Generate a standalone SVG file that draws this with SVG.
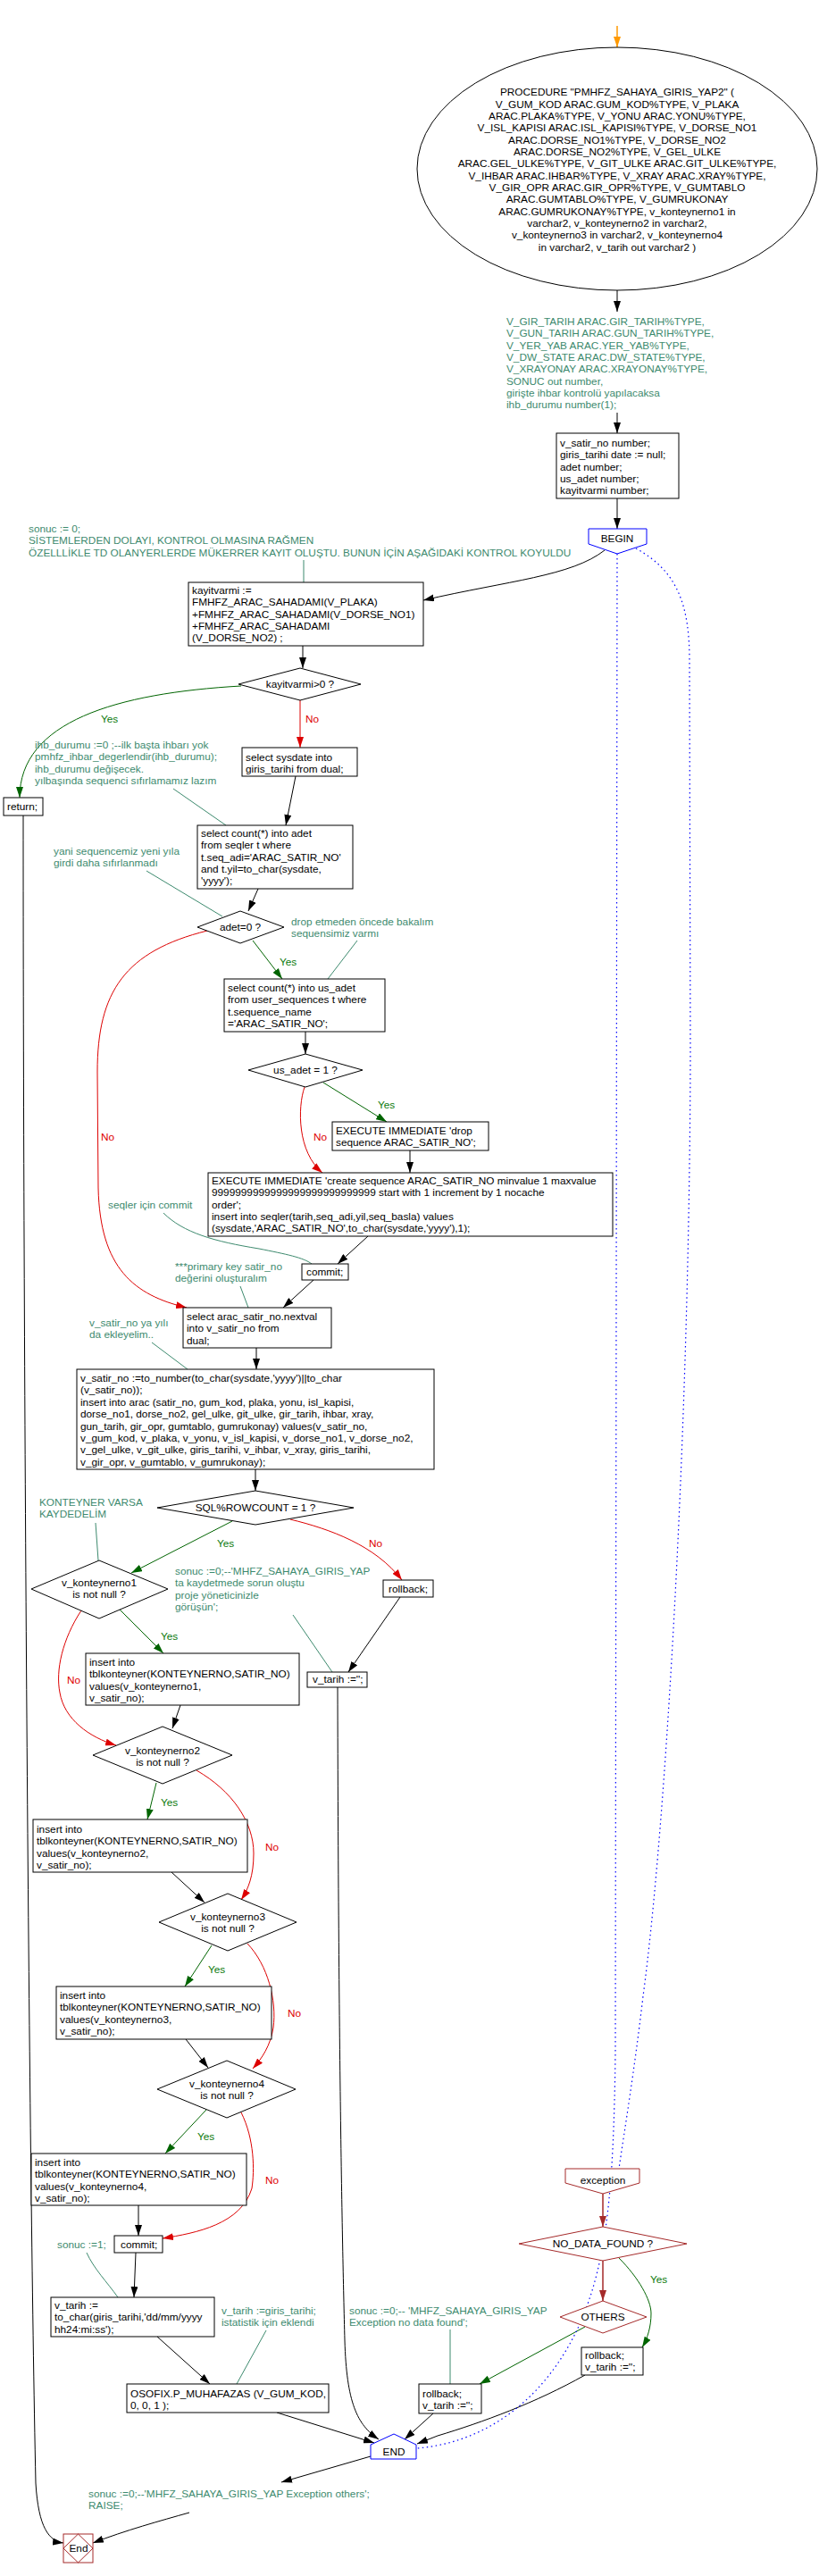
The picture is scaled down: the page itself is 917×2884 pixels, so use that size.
<svg xmlns="http://www.w3.org/2000/svg" width="917" height="2884" viewBox="0 0 917 2884">
<style>
text{font-family:"Liberation Sans",Arial,sans-serif;font-size:11.8px;fill:#000}
.c{fill:#3d8a6e}
.m{text-anchor:middle}
.yes{fill:#0b7a0b}
.no{fill:#dd0000}
.box{fill:#fff;stroke:#000;stroke-width:1}
.blue{fill:#fff;stroke:#0000ff;stroke-width:1}
.brn{fill:#fff;stroke:#a52a2a;stroke-width:1}
.e{fill:none;stroke:#000;stroke-width:1}
.g{fill:none;stroke:#006400;stroke-width:1}
.r{fill:none;stroke:#dd0000;stroke-width:1}
.br{fill:none;stroke:#a52a2a;stroke-width:1.5}
.o{fill:none;stroke:#ff9900;stroke-width:1.5}
.cl{fill:none;stroke:#3d8a6e;stroke-width:1}
.d{fill:none;stroke:#0000ff;stroke-width:1.2;stroke-dasharray:1.5 3.5}
</style>
<defs>
<marker id="ab" markerWidth="12" markerHeight="8" refX="12" refY="4" orient="auto" markerUnits="userSpaceOnUse"><path d="M0,0 L12,4 L0,8 z" fill="#000"/></marker>
<marker id="ag" markerWidth="12" markerHeight="8" refX="12" refY="4" orient="auto" markerUnits="userSpaceOnUse"><path d="M0,0 L12,4 L0,8 z" fill="#006400"/></marker>
<marker id="ar" markerWidth="12" markerHeight="8" refX="12" refY="4" orient="auto" markerUnits="userSpaceOnUse"><path d="M0,0 L12,4 L0,8 z" fill="#dd0000"/></marker>
<marker id="abr" markerWidth="12" markerHeight="8" refX="12" refY="4" orient="auto" markerUnits="userSpaceOnUse"><path d="M0,0 L12,4 L0,8 z" fill="#a52a2a"/></marker>
<marker id="ao" markerWidth="12" markerHeight="8" refX="12" refY="4" orient="auto" markerUnits="userSpaceOnUse"><path d="M0,0 L12,4 L0,8 z" fill="#ff9900"/></marker>
</defs>
<rect width="917" height="2884" fill="#fff"/>

<g id="connectors">
<path class="o" d="M691,29 L691,53" marker-end="url(#ao)"/>
<path class="e" d="M691,325 L691,349" marker-end="url(#ab)"/>
<path class="e" d="M691,462 L691,485" marker-end="url(#ab)"/>
<path class="e" d="M691,558 L691,592" marker-end="url(#ab)"/>
<path class="e" d="M677,616 C640,645 570,650 474,672" marker-end="url(#ab)"/>
<path class="cl" d="M340,627 L340,652"/>
<path class="e" d="M339,723 L339,748" marker-end="url(#ab)"/>
<path class="g" d="M270,768 C130,776 22,808 22,893" marker-end="url(#ag)"/>
<path class="r" d="M336,784 L336,837" marker-end="url(#ar)"/>
<path class="cl" d="M194,883 L253,924"/>
<path class="e" d="M331,869 L320,924" marker-end="url(#ab)"/>
<path class="e" d="M26,913 C26,1500 32,2400 40,2780 C43,2830 55,2845 71,2847" marker-end="url(#ab)"/>
<path class="cl" d="M164,975 L249,1026"/>
<path class="e" d="M289,995 L278,1020" marker-end="url(#ab)"/>
<path class="g" d="M283,1053 L316,1096" marker-end="url(#ag)"/>
<path class="cl" d="M400,1053 L367,1096"/>
<path class="r" d="M232,1042 C140,1065 109,1110 109,1200 L110,1330 C112,1420 150,1450 209,1464" marker-end="url(#ar)"/>
<path class="e" d="M342,1155 L342,1180" marker-end="url(#ab)"/>
<path class="g" d="M362,1212 L433,1256" marker-end="url(#ag)"/>
<path class="r" d="M341,1217 C333,1240 333,1290 361,1313" marker-end="url(#ar)"/>
<path class="e" d="M459,1288 L459,1313" marker-end="url(#ab)"/>
<path class="cl" d="M183,1358 C205,1380 240,1390 290,1398 C320,1404 340,1408 349,1415"/>
<path class="e" d="M412,1384 L378,1415" marker-end="url(#ab)"/>
<path class="cl" d="M269,1440 L278,1464"/>
<path class="e" d="M351,1433 L317,1464" marker-end="url(#ab)"/>
<path class="cl" d="M170,1503 L210,1533"/>
<path class="e" d="M287,1509 L287,1533" marker-end="url(#ab)"/>
<path class="e" d="M286,1645 L286,1669" marker-end="url(#ab)"/>
<path class="cl" d="M107,1705 L110,1747"/>
<path class="g" d="M260,1703 L147,1761" marker-end="url(#ag)"/>
<path class="r" d="M325,1701 C370,1712 420,1730 450,1769" marker-end="url(#ar)"/>
<path class="cl" d="M328,1808 L372,1872"/>
<path class="e" d="M448,1788 L390,1872" marker-end="url(#ab)"/>
<path class="e" d="M378,1889 C379,2300 383,2500 386,2620 C388,2690 400,2715 424,2731" marker-end="url(#ab)"/>
<path class="g" d="M133,1801 L183,1851" marker-end="url(#ag)"/>
<path class="r" d="M91,1803 C70,1835 62,1870 67,1895 C72,1925 100,1945 130,1954" marker-end="url(#ar)"/>
<path class="e" d="M202,1909 L193,1935" marker-end="url(#ab)"/>
<path class="g" d="M175,1996 L165,2037" marker-end="url(#ag)"/>
<path class="r" d="M220,1982 C260,2005 284,2040 284,2075 C284,2100 278,2115 270,2127" marker-end="url(#ar)"/>
<path class="e" d="M192,2096 L229,2130" marker-end="url(#ab)"/>
<path class="g" d="M237,2178 L207,2224" marker-end="url(#ag)"/>
<path class="r" d="M277,2176 C300,2200 310,2240 306,2270 C303,2290 293,2305 283,2316" marker-end="url(#ar)"/>
<path class="e" d="M208,2283 L233,2315" marker-end="url(#ab)"/>
<path class="g" d="M231,2362 L185,2411" marker-end="url(#ag)"/>
<path class="r" d="M270,2365 C285,2395 285,2430 282,2450 C270,2490 220,2500 182,2506" marker-end="url(#ar)"/>
<path class="e" d="M155,2469 L155,2503" marker-end="url(#ab)"/>
<path class="cl" d="M97,2522 C105,2540 120,2555 132,2572"/>
<path class="e" d="M152,2522 L150,2572" marker-end="url(#ab)"/>
<path class="e" d="M176,2616 L235,2669" marker-end="url(#ab)"/>
<path class="cl" d="M298,2609 L265,2669"/>
<path class="e" d="M310,2701 L419,2735" marker-end="url(#ab)"/>
<path class="cl" d="M504,2608 L504,2669"/>
<path class="br" d="M675,2456 L675,2493" marker-end="url(#abr)"/>
<path class="br" d="M675,2531 L675,2576" marker-end="url(#abr)"/>
<path class="g" d="M693,2528 C715,2550 729,2575 729,2590 C729,2605 725,2618 719,2628" marker-end="url(#ag)"/>
<path class="g" d="M655,2605 L537,2669" marker-end="url(#ag)"/>
<path class="e" d="M485,2702 L453,2731" marker-end="url(#ab)"/>
<path class="e" d="M655,2659 C600,2690 540,2712 490,2727 L467,2736" marker-end="url(#ab)"/>
<path class="e" d="M415,2750 L315,2779" marker-end="url(#ab)"/>
<path class="e" d="M212,2813 C180,2822 140,2833 104,2847" marker-end="url(#ab)"/>
<path class="d" d="M691,620 L689,2300 C687,2450 680,2530 650,2600 C610,2690 540,2735 467,2741"/>
<path class="d" d="M712,614 C760,640 772,680 772,740 L773,1180 C772,1600 745,2050 720,2235 C710,2320 700,2380 693,2428"/>
<text class="yes" x="113" y="809">Yes</text>
<text class="no" x="342" y="809">No</text>
<text class="yes" x="313" y="1081">Yes</text>
<text class="no" x="113" y="1277">No</text>
<text class="yes" x="423" y="1241">Yes</text>
<text class="no" x="351" y="1277">No</text>
<text class="yes" x="243" y="1732">Yes</text>
<text class="no" x="413" y="1732">No</text>
<text class="yes" x="180" y="1836">Yes</text>
<text class="no" x="75" y="1885">No</text>
<text class="yes" x="180" y="2022">Yes</text>
<text class="no" x="297" y="2072">No</text>
<text class="yes" x="233" y="2209">Yes</text>
<text class="no" x="322" y="2258">No</text>
<text class="yes" x="221" y="2396">Yes</text>
<text class="no" x="297" y="2445">No</text>
<text class="yes" x="728" y="2556">Yes</text>
</g>

<g id="n_proc">
<ellipse class="box" cx="691" cy="189" rx="224" ry="136"/>
<text class="m" x="691" y="107.3"><tspan x="691">PROCEDURE "PMHFZ_SAHAYA_GIRIS_YAP2" (</tspan><tspan x="691" dy="13.33">V_GUM_KOD  ARAC.GUM_KOD%TYPE, V_PLAKA</tspan><tspan x="691" dy="13.33">ARAC.PLAKA%TYPE, V_YONU ARAC.YONU%TYPE,</tspan><tspan x="691" dy="13.33">V_ISL_KAPISI ARAC.ISL_KAPISI%TYPE, V_DORSE_NO1</tspan><tspan x="691" dy="13.33">ARAC.DORSE_NO1%TYPE, V_DORSE_NO2</tspan><tspan x="691" dy="13.33">ARAC.DORSE_NO2%TYPE, V_GEL_ULKE</tspan><tspan x="691" dy="13.33">ARAC.GEL_ULKE%TYPE, V_GIT_ULKE ARAC.GIT_ULKE%TYPE,</tspan><tspan x="691" dy="13.33">V_IHBAR  ARAC.IHBAR%TYPE, V_XRAY ARAC.XRAY%TYPE,</tspan><tspan x="691" dy="13.33">V_GIR_OPR  ARAC.GIR_OPR%TYPE, V_GUMTABLO</tspan><tspan x="691" dy="13.33">ARAC.GUMTABLO%TYPE, V_GUMRUKONAY</tspan><tspan x="691" dy="13.33">ARAC.GUMRUKONAY%TYPE, v_konteynerno1  in</tspan><tspan x="691" dy="13.33">varchar2, v_konteynerno2  in  varchar2,</tspan><tspan x="691" dy="13.33">v_konteynerno3  in  varchar2, v_konteynerno4</tspan><tspan x="691" dy="13.33">in  varchar2, v_tarih out varchar2 )</tspan></text>
</g>

<g id="n_params">
<text class="c" x="567" y="364"><tspan x="567">V_GIR_TARIH  ARAC.GIR_TARIH%TYPE,</tspan><tspan x="567" dy="13.3">V_GUN_TARIH  ARAC.GUN_TARIH%TYPE,</tspan><tspan x="567" dy="13.3">V_YER_YAB  ARAC.YER_YAB%TYPE,</tspan><tspan x="567" dy="13.3">V_DW_STATE ARAC.DW_STATE%TYPE,</tspan><tspan x="567" dy="13.3">V_XRAYONAY ARAC.XRAYONAY%TYPE,</tspan><tspan x="567" dy="13.3">SONUC out  number,</tspan><tspan x="567" dy="13.3">girişte ihbar kontrolü yapılacaksa</tspan><tspan x="567" dy="13.3">ihb_durumu number(1);</tspan></text>
</g>

<g id="n_decl">
<rect class="box" x="623" y="485" width="137" height="73"/>
<text x="627" y="500"><tspan x="627">v_satir_no number;</tspan><tspan x="627" dy="13.3">giris_tarihi date := null;</tspan><tspan x="627" dy="13.3">adet number;</tspan><tspan x="627" dy="13.3">us_adet number;</tspan><tspan x="627" dy="13.3">kayitvarmi number;</tspan></text>
</g>

<g id="n_begin">
<polygon class="blue" points="659,592 724,592 724,609 691,620 659,609"/>
<text class="m" x="691" y="607">BEGIN</text>
</g>

<g id="c_sonuc0">
<text class="c" x="32" y="596"><tspan x="32">sonuc := 0;</tspan><tspan x="32" dy="13.3">SİSTEMLERDEN DOLAYI, KONTROL OLMASINA RAĞMEN</tspan><tspan x="32" dy="13.3">ÖZELLLİKLE TD OLANYERLERDE MÜKERRER KAYIT OLUŞTU. BUNUN İÇİN AŞAĞIDAKİ KONTROL KOYULDU</tspan></text>
</g>

<g id="n_kayitvarmi">
<rect class="box" x="211" y="652" width="263" height="71"/>
<text x="215" y="665"><tspan x="215">kayitvarmi :=</tspan><tspan x="215" dy="13.3">FMHFZ_ARAC_SAHADAMI(V_PLAKA)</tspan><tspan x="215" dy="13.3">+FMHFZ_ARAC_SAHADAMI(V_DORSE_NO1)</tspan><tspan x="215" dy="13.3">+FMHFZ_ARAC_SAHADAMI</tspan><tspan x="215" dy="13.3">(V_DORSE_NO2) ;</tspan></text>
</g>

<g id="n_q_kayit">
<polygon class="box" points="336,748 404,766 336,784 267,766"/>
<text class="m" x="336" y="770">kayitvarmi&gt;0 ?</text>
</g>

<g id="n_sysdate">
<rect class="box" x="271" y="837" width="129" height="32"/>
<text x="275" y="852"><tspan x="275">select sysdate into</tspan><tspan x="275" dy="13.3">giris_tarihi from dual;</tspan></text>
</g>

<g id="c_ihb">
<text class="c" x="39" y="838"><tspan x="39">ihb_durumu :=0 ;--ilk başta ihbarı yok</tspan><tspan x="39" dy="13.3">pmhfz_ihbar_degerlendir(ihb_durumu);</tspan><tspan x="39" dy="13.3">ihb_durumu değişecek.</tspan><tspan x="39" dy="13.3">yılbaşında sequenci sıfırlamamız lazım</tspan></text>
</g>

<g id="n_return">
<rect class="box" x="4" y="893" width="44" height="20"/>
<text x="8" y="907">return;</text>
</g>

<g id="n_count">
<rect class="box" x="221" y="924" width="174" height="71"/>
<text x="225" y="937"><tspan x="225">select count(*) into adet</tspan><tspan x="225" dy="13.3">from seqler t where</tspan><tspan x="225" dy="13.3">t.seq_adi='ARAC_SATIR_NO'</tspan><tspan x="225" dy="13.3">and t.yil=to_char(sysdate,</tspan><tspan x="225" dy="13.3">'yyyy');</tspan></text>
</g>

<g id="c_yani">
<text class="c" x="60" y="957"><tspan x="60">yani sequencemiz yeni yıla</tspan><tspan x="60" dy="13.3">girdi daha sıfırlanmadı</tspan></text>
</g>

<g id="n_q_adet">
<polygon class="box" points="269,1020 318,1038 269,1056 221,1038"/>
<text class="m" x="269" y="1042">adet=0 ?</text>
</g>

<g id="c_drop">
<text class="c" x="326" y="1036"><tspan x="326">drop etmeden öncede bakalım</tspan><tspan x="326" dy="13.3">sequensimiz varmı</tspan></text>
</g>

<g id="n_usadet">
<rect class="box" x="251" y="1096" width="180" height="59"/>
<text x="255" y="1110"><tspan x="255">select count(*) into us_adet</tspan><tspan x="255" dy="13.3">from user_sequences t where</tspan><tspan x="255" dy="13.3">t.sequence_name</tspan><tspan x="255" dy="13.3">='ARAC_SATIR_NO';</tspan></text>
</g>

<g id="n_q_usadet">
<polygon class="box" points="342,1180 406,1198 342,1217 278,1198"/>
<text class="m" x="342" y="1202">us_adet = 1 ?</text>
</g>

<g id="n_dropseq">
<rect class="box" x="372" y="1256" width="175" height="32"/>
<text x="376" y="1270"><tspan x="376">EXECUTE IMMEDIATE  'drop</tspan><tspan x="376" dy="13.3">sequence ARAC_SATIR_NO';</tspan></text>
</g>

<g id="n_create">
<rect class="box" x="233" y="1313" width="453" height="71"/>
<text x="237" y="1326"><tspan x="237">EXECUTE IMMEDIATE 'create sequence ARAC_SATIR_NO minvalue 1 maxvalue</tspan><tspan x="237" dy="13.3">9999999999999999999999999999 start with 1 increment by 1 nocache</tspan><tspan x="237" dy="13.3">order';</tspan><tspan x="237" dy="13.3">insert into seqler(tarih,seq_adi,yil,seq_basla) values</tspan><tspan x="237" dy="13.3">(sysdate,'ARAC_SATIR_NO',to_char(sysdate,'yyyy'),1);</tspan></text>
</g>

<g id="c_seqler">
<text class="c" x="121" y="1353">seqler için commit</text>
</g>

<g id="n_commit1">
<rect class="box" x="338" y="1415" width="52" height="18"/>
<text x="343" y="1428">commit;</text>
</g>

<g id="c_pk">
<text class="c" x="196" y="1422"><tspan x="196">***primary key satir_no</tspan><tspan x="196" dy="13.3">değerini oluşturalım</tspan></text>
</g>

<g id="n_nextval">
<rect class="box" x="205" y="1464" width="166" height="45"/>
<text x="209" y="1478"><tspan x="209">select arac_satir_no.nextval</tspan><tspan x="209" dy="13.3">into v_satir_no from</tspan><tspan x="209" dy="13.3">dual;</tspan></text>
</g>

<g id="c_yil">
<text class="c" x="100" y="1485"><tspan x="100">v_satir_no ya yılı</tspan><tspan x="100" dy="13.3">da ekleyelim..</tspan></text>
</g>

<g id="n_insert_arac">
<rect class="box" x="86" y="1533" width="400" height="112"/>
<text x="90" y="1547"><tspan x="90">v_satir_no :=to_number(to_char(sysdate,'yyyy')||to_char</tspan><tspan x="90" dy="13.4">(v_satir_no));</tspan><tspan x="90" dy="13.4">insert into arac (satir_no, gum_kod, plaka, yonu, isl_kapisi,</tspan><tspan x="90" dy="13.4">dorse_no1, dorse_no2, gel_ulke, git_ulke, gir_tarih, ihbar, xray,</tspan><tspan x="90" dy="13.4">gun_tarih, gir_opr, gumtablo, gumrukonay) values(v_satir_no,</tspan><tspan x="90" dy="13.4">v_gum_kod, v_plaka, v_yonu, v_isl_kapisi, v_dorse_no1, v_dorse_no2,</tspan><tspan x="90" dy="13.4">v_gel_ulke, v_git_ulke, giris_tarihi, v_ihbar, v_xray, giris_tarihi,</tspan><tspan x="90" dy="13.4">v_gir_opr, v_gumtablo, v_gumrukonay);</tspan></text>
</g>

<g id="n_q_rowcount">
<polygon class="box" points="286,1669 396,1688 286,1707 176,1688"/>
<text class="m" x="286" y="1692">SQL%ROWCOUNT = 1 ?</text>
</g>

<g id="c_konteyner">
<text class="c" x="44" y="1686"><tspan x="44">KONTEYNER VARSA</tspan><tspan x="44" dy="13.3">KAYDEDELİM</tspan></text>
</g>

<g id="n_q_k1">
<polygon class="box" points="111,1747 188,1779 111,1812 35,1779"/>
<text class="m" x="111" y="1776"><tspan x="111">v_konteynerno1</tspan><tspan x="111" dy="13.3">is not null ?</tspan></text>
</g>

<g id="n_rollback1">
<rect class="box" x="429" y="1769" width="56" height="19"/>
<text x="435" y="1783">rollback;</text>
</g>

<g id="c_sorun">
<text class="c" x="196" y="1763"><tspan x="196">sonuc :=0;--'MHFZ_SAHAYA_GIRIS_YAP</tspan><tspan x="196" dy="13.3">ta kaydetmede sorun oluştu</tspan><tspan x="196" dy="13.3">proje yöneticinizle</tspan><tspan x="196" dy="13.3">görüşün';</tspan></text>
</g>

<g id="n_vtarih1">
<rect class="box" x="344" y="1872" width="67" height="17"/>
<text x="350" y="1884">v_tarih :='';</text>
</g>

<g id="n_ins1">
<rect class="box" x="96" y="1851" width="239" height="58"/>
<text x="100" y="1865"><tspan x="100">insert into</tspan><tspan x="100" dy="13.3">tblkonteyner(KONTEYNERNO,SATIR_NO)</tspan><tspan x="100" dy="13.3">values(v_konteynerno1,</tspan><tspan x="100" dy="13.3">v_satir_no);</tspan></text>
</g>

<g id="n_q_k2">
<polygon class="box" points="182,1933 260,1965 182,1997 104,1965"/>
<text class="m" x="182" y="1964"><tspan x="182">v_konteynerno2</tspan><tspan x="182" dy="13.3">is not null ?</tspan></text>
</g>

<g id="n_ins2">
<rect class="box" x="37" y="2037" width="240" height="59"/>
<text x="41" y="2052"><tspan x="41">insert into</tspan><tspan x="41" dy="13.3">tblkonteyner(KONTEYNERNO,SATIR_NO)</tspan><tspan x="41" dy="13.3">values(v_konteynerno2,</tspan><tspan x="41" dy="13.3">v_satir_no);</tspan></text>
</g>

<g id="n_q_k3">
<polygon class="box" points="255,2120 332,2152 255,2184 178,2152"/>
<text class="m" x="255" y="2150"><tspan x="255">v_konteynerno3</tspan><tspan x="255" dy="13.3">is not null ?</tspan></text>
</g>

<g id="n_ins3">
<rect class="box" x="63" y="2224" width="241" height="59"/>
<text x="67" y="2238"><tspan x="67">insert into</tspan><tspan x="67" dy="13.3">tblkonteyner(KONTEYNERNO,SATIR_NO)</tspan><tspan x="67" dy="13.3">values(v_konteynerno3,</tspan><tspan x="67" dy="13.3">v_satir_no);</tspan></text>
</g>

<g id="n_q_k4">
<polygon class="box" points="254,2307 331,2339 254,2371 176,2339"/>
<text class="m" x="254" y="2337"><tspan x="254">v_konteynerno4</tspan><tspan x="254" dy="13.3">is not null ?</tspan></text>
</g>

<g id="n_ins4">
<rect class="box" x="35" y="2411" width="241" height="58"/>
<text x="39" y="2425"><tspan x="39">insert into</tspan><tspan x="39" dy="13.3">tblkonteyner(KONTEYNERNO,SATIR_NO)</tspan><tspan x="39" dy="13.3">values(v_konteynerno4,</tspan><tspan x="39" dy="13.3">v_satir_no);</tspan></text>
</g>

<g id="n_commit2">
<rect class="box" x="128" y="2503" width="54" height="19"/>
<text x="135" y="2517">commit;</text>
</g>

<g id="c_sonuc1">
<text class="c" x="64" y="2517">sonuc :=1;</text>
</g>

<g id="n_vtarih2">
<rect class="box" x="57" y="2572" width="183" height="44"/>
<text x="61" y="2585"><tspan x="61">v_tarih :=</tspan><tspan x="61" dy="13.3">to_char(giris_tarihi,'dd/mm/yyyy</tspan><tspan x="61" dy="13.3">hh24:mi:ss');</tspan></text>
</g>

<g id="c_istatistik">
<text class="c" x="248" y="2591"><tspan x="248">v_tarih :=giris_tarihi;</tspan><tspan x="248" dy="13.3">istatistik için eklendi</tspan></text>
</g>

<g id="n_osofix">
<rect class="box" x="142" y="2669" width="226" height="32"/>
<text x="146" y="2684"><tspan x="146">OSOFIX.P_MUHAFAZAS (V_GUM_KOD,</tspan><tspan x="146" dy="13.3">0, 0, 1 );</tspan></text>
</g>

<g id="c_nodata">
<text class="c" x="391" y="2591"><tspan x="391">sonuc :=0;-- 'MHFZ_SAHAYA_GIRIS_YAP</tspan><tspan x="391" dy="13.3">Exception no data found';</tspan></text>
</g>

<g id="n_exception">
<polygon class="brn" points="633,2428 716,2428 716,2444 675,2456 633,2444"/>
<text class="m" x="675" y="2445">exception</text>
</g>

<g id="n_q_nodata">
<polygon class="brn" points="675,2493 769,2512 675,2531 581,2512"/>
<text class="m" x="675" y="2516">NO_DATA_FOUND ?</text>
</g>

<g id="n_q_others">
<polygon class="brn" points="675,2576 724,2594 675,2612 627,2594"/>
<text class="m" x="675" y="2598">OTHERS</text>
</g>

<g id="n_rollback_nd">
<rect class="box" x="651" y="2628" width="69" height="31"/>
<text x="655" y="2641"><tspan x="655">rollback;</tspan><tspan x="655" dy="13">v_tarih :='';</tspan></text>
</g>

<g id="n_rollback_oth">
<rect class="box" x="469" y="2669" width="70" height="33"/>
<text x="473" y="2684"><tspan x="473">rollback;</tspan><tspan x="473" dy="13">v_tarih :='';</tspan></text>
</g>

<g id="n_END">
<polygon class="blue" points="415,2737 441,2725 466,2737 466,2753 415,2753"/>
<text class="m" x="441" y="2749">END</text>
</g>

<g id="n_raise">
<text class="c" x="99" y="2796"><tspan x="99">sonuc :=0;--'MHFZ_SAHAYA_GIRIS_YAP Exception others';</tspan><tspan x="99" dy="13.3">RAISE;</tspan></text>
</g>

<g id="n_End">
<rect x="71" y="2837" width="33" height="32" fill="#fff" stroke="#a52a2a"/>
<polygon points="87.5,2837 104,2853 87.5,2869 71,2853" fill="none" stroke="#a52a2a"/>
<text class="m" x="88" y="2857">End</text>
</g>
</svg>
